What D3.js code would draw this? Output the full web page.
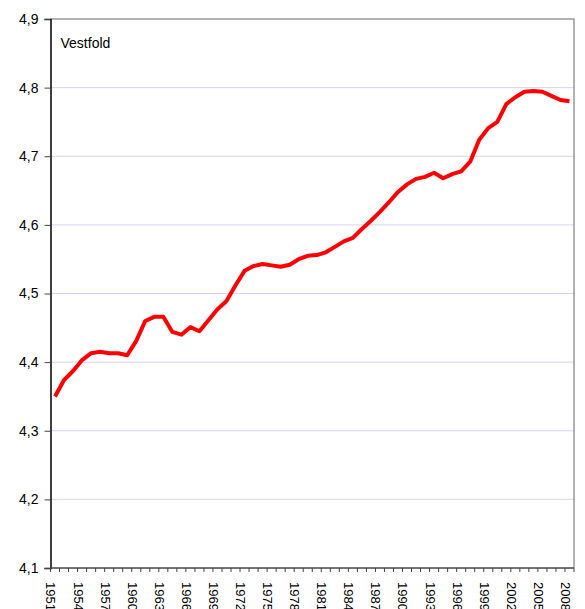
<!DOCTYPE html>
<html>
  <head>
    <meta charset="utf-8">
    <title>Vestfold</title>
    <style>
      body { margin: 0; background: white; }
      text { font-family: "Liberation Sans", Arial, sans-serif; fill: black; }
      .grid line { stroke: #d4d4f4; stroke-width: 1; }
      .y.axis text { font-size: 14px; }
      .x.axis text { font-size: 13px; }
      .series { fill: none; stroke: #ff0000; stroke-width: 4; stroke-linejoin: round; }
    </style>
    <script src="https://d3js.org/d3.v7.min.js"></script>
  </head>
  <body>
    <script>
      const years = d3.range(1951, 2009);

      const values = [
        4.350, 4.374, 4.387, 4.403, 4.413, 4.415, 4.413, 4.413, 4.410, 4.431,
        4.460, 4.466, 4.466, 4.444, 4.440, 4.451, 4.445, 4.461, 4.477, 4.489,
        4.512, 4.533, 4.540, 4.543, 4.541, 4.539, 4.542, 4.550, 4.555, 4.556,
        4.560, 4.568, 4.576, 4.581, 4.594, 4.606, 4.619, 4.633, 4.648, 4.659,
        4.667, 4.670, 4.676, 4.668, 4.674, 4.678, 4.692, 4.724, 4.741, 4.750,
        4.776, 4.786, 4.794, 4.795, 4.794, 4.788, 4.782, 4.780
      ];

      const yTicks = [4.1, 4.2, 4.3, 4.4, 4.5, 4.6, 4.7, 4.8, 4.9];
      const xLabels = years.filter((d, i) => i % 3 === 0);

      const margin = { top: 19, right: 11, bottom: 41, left: 50.5 };
      const width = 585;
      const height = 609;
      const innerW = width - margin.left - margin.right;
      const innerH = height - margin.top - margin.bottom;

      const svg = d3.select('body').append('svg')
        .attr('width', width)
        .attr('height', height);

      const g = svg.append('g')
        .attr('transform', `translate(${margin.left},${margin.top})`);

      const x = d3.scaleBand().domain(years).range([0, innerW]);
      const y = d3.scaleLinear().domain([4.1, 4.9]).range([innerH, 0]);

      // gridlines
      g.append('g').attr('class', 'grid')
        .selectAll('line')
        .data(yTicks.slice(1, -1))
        .enter().append('line')
          .attr('x1', 0).attr('x2', innerW)
          .attr('y1', d => y(d)).attr('y2', d => y(d));

      // top and right frame
      g.append('path')
        .attr('d', `M0,${y(4.9)}H${innerW}V${innerH}`)
        .attr('fill', 'none')
        .attr('stroke', '#999')
        .attr('stroke-width', 1.5);

      // y axis
      const yAxis = d3.axisLeft(y)
        .tickValues(yTicks)
        .tickSize(6)
        .tickPadding(6)
        .tickFormat(d => d3.format('.1f')(d).replace('.', ','));

      g.append('g').attr('class', 'y axis')
        .call(yAxis)
        .call(s => s.select('.domain').attr('stroke', '#000').attr('stroke-width', 1.5))
        .call(s => s.selectAll('.tick line').attr('stroke', '#444'));

      // x axis: ticks at category boundaries
      const xa = g.append('g').attr('class', 'x axis')
        .attr('transform', `translate(0,${innerH})`);

      xa.append('line')
        .attr('x1', 0).attr('x2', innerW)
        .attr('stroke', '#444').attr('stroke-width', 1.5);

      xa.selectAll('.tick')
        .data(years.concat([2009]))
        .enter().append('line')
          .attr('class', 'tick')
          .attr('x1', (d, i) => i * x.step())
          .attr('x2', (d, i) => i * x.step())
          .attr('y1', 0).attr('y2', 4)
          .attr('stroke', '#444');

      xa.selectAll('text')
        .data(xLabels)
        .enter().append('text')
          .attr('transform', d => `translate(${x(d) + x.bandwidth() / 2 - 4},14) rotate(90)`)
          .attr('dy', '0.35em')
          .attr('text-anchor', 'start')
          .text(d => d);

      // series
      const line = d3.line()
        .x((d, i) => x(years[i]) + x.bandwidth() / 2)
        .y(d => y(d));

      g.append('path')
        .datum(values)
        .attr('class', 'series')
        .attr('d', line);

      g.append('text')
        .attr('x', 10)
        .attr('y', 29)
        .attr('font-size', 14)
        .text('Vestfold');
    </script>
  </body>
</html>
